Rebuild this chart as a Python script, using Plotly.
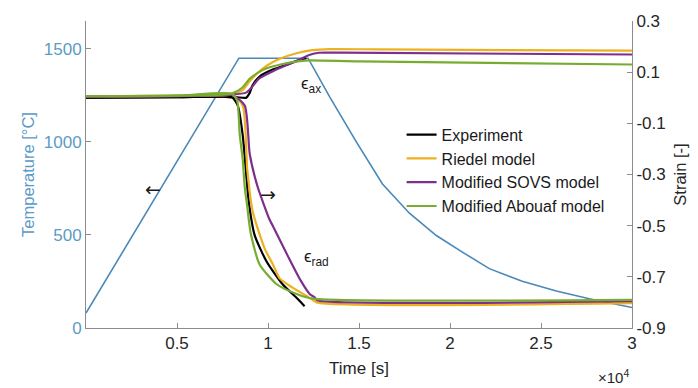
import plotly.graph_objects as go

# ---- temperature programme (left axis) ----
temp_time = [0, 8400, 12200, 13380, 14870, 16290, 17770, 19250, 20680, 22160, 23970, 25840, 27650, 30000]
temp_vals = [80, 1450, 1450, 1244, 998, 774, 617, 497, 408, 319, 251, 199, 157, 110]

# ---- axial strain (right axis) ----
exp_ax_t = [0, 5000, 7600, 8300, 8800, 9000, 9160, 9540, 10260, 11030, 11740, 12100]
exp_ax = [0.0, 0.002, 0.004, 0.002, 0.0, 0.02, 0.05, 0.083, 0.11, 0.129, 0.148, 0.155]

riedel_ax_t = [0, 5000, 8000, 8600, 9000, 9400, 9930, 10640, 11570, 12450, 13400, 16000, 30000]
riedel_ax = [0.005, 0.007, 0.012, 0.03, 0.065, 0.095, 0.125, 0.152, 0.174, 0.186, 0.19, 0.189, 0.184]

sovs_ax_t = [0, 5000, 8000, 8800, 9100, 9500, 10300, 11000, 11700, 12300, 12800, 14000, 30000]
sovs_ax = [0.004, 0.006, 0.012, 0.02, 0.04, 0.075, 0.105, 0.127, 0.148, 0.168, 0.176, 0.176, 0.169]

abouaf_ax_t = [0, 5000, 8000, 8600, 9000, 9500, 9930, 10800, 11740, 12300, 15000, 30000]
abouaf_ax = [0.006, 0.008, 0.016, 0.04, 0.075, 0.1, 0.115, 0.132, 0.143, 0.146, 0.142, 0.13]

# ---- radial strain (right axis) ----
exp_rad_t = [0, 5000, 7600, 8060, 8340, 8610, 8950, 9270, 9930, 10800, 11570, 12010]
exp_rad = [0.0, 0.002, 0.004, 0.0, -0.031, -0.146, -0.41, -0.538, -0.641, -0.729, -0.782, -0.815]

riedel_rad_t = [0, 5000, 8000, 8610, 8860, 9160, 9820, 10260, 10640, 11300, 12290, 12670, 30000]
riedel_rad = [0.005, 0.007, 0.012, -0.03, -0.28, -0.445, -0.59, -0.65, -0.706, -0.74, -0.782, -0.8, -0.803]

sovs_rad_t = [0, 5000, 8000, 8720, 9000, 9430, 10090, 10260, 11100, 11800, 12290, 12560, 12700, 30000]
sovs_rad = [0.004, 0.006, 0.012, -0.03, -0.222, -0.348, -0.477, -0.5, -0.62, -0.715, -0.767, -0.78, -0.792, -0.795]

abouaf_rad_t = [0, 5000, 8000, 8300, 8450, 8610, 8720, 8850, 9050, 9540, 10480, 11570, 12450, 30000]
abouaf_rad = [0.006, 0.008, 0.016, -0.01, -0.146, -0.24, -0.348, -0.42, -0.53, -0.652, -0.729, -0.767, -0.785, -0.79]

# ---- axis ticks ----
x_tickvals = [5000, 10000, 15000, 20000, 25000, 30000]
x_ticktext = ["0.5", "1", "1.5", "2", "2.5", "3"]
temp_tickvals = [0, 500, 1000, 1500]
strain_tickvals = [-0.9, -0.7, -0.5, -0.3, -0.1, 0.1, 0.3]
strain_ticktext = ["-0.9", "-0.7", "-0.5", "-0.3", "-0.1", "0.1", "0.3"]

FONT = "Liberation Sans, Arial, sans-serif"
TEMP_BLUE = "#4a88b8"
LABEL_BLUE = "#5b9bc6"
AXIS_GRAY = "#8c8c8c"
TEXT = "#262626"

series = [
    ("Experiment", "#000000", exp_ax_t, exp_ax, exp_rad_t, exp_rad),
    ("Riedel model", "#EDB120", riedel_ax_t, riedel_ax, riedel_rad_t, riedel_rad),
    ("Modified SOVS model", "#7E2F8E", sovs_ax_t, sovs_ax, sovs_rad_t, sovs_rad),
    ("Modified Abouaf model", "#77AC30", abouaf_ax_t, abouaf_ax, abouaf_rad_t, abouaf_rad),
]

fig = go.Figure()

fig.add_trace(go.Scatter(
    x=temp_time, y=temp_vals, mode="lines", yaxis="y",
    line=dict(color=TEMP_BLUE, width=1.6), showlegend=False, hoverinfo="skip",
))

for name, color, ax_t, ax_v, rad_t, rad_v in series:
    fig.add_trace(go.Scatter(
        x=ax_t, y=ax_v, mode="lines", yaxis="y2", name=name, legendgroup=name,
        line=dict(color=color, width=2.2, shape="spline", smoothing=0.6),
    ))
    fig.add_trace(go.Scatter(
        x=rad_t, y=rad_v, mode="lines", yaxis="y2", name=name, legendgroup=name,
        showlegend=False,
        line=dict(color=color, width=2.2, shape="spline", smoothing=0.6),
    ))

annotations = [
    dict(x=12350, y=0.05, xref="x", yref="y2", text="ϵ<sub>ax</sub>", showarrow=False,
         font=dict(size=17, color="#1a1a1a", family=FONT)),
    dict(x=12650, y=-0.625, xref="x", yref="y2", text="ϵ<sub>rad</sub>", showarrow=False,
         font=dict(size=17, color="#1a1a1a", family=FONT)),
    dict(x=3700, y=-0.355, xref="x", yref="y2", text="←", showarrow=False,
         font=dict(size=19, color="#1a1a1a", family="DejaVu Sans")),
    dict(x=10000, y=-0.375, xref="x", yref="y2", text="→", showarrow=False,
         font=dict(size=19, color="#1a1a1a", family="DejaVu Sans")),
    dict(x=0.967, y=-0.159, xref="paper", yref="paper", xanchor="center", yanchor="middle",
         text="×10<sup>4</sup>", showarrow=False,
         font=dict(size=15, color=TEXT, family=FONT)),
]

fig.update_layout(
    width=698, height=388,
    margin=dict(l=86, r=65, t=13, b=60),
    paper_bgcolor="white", plot_bgcolor="white",
    font=dict(family=FONT, size=17, color=TEXT),
    xaxis=dict(
        range=[0, 30000], tickvals=x_tickvals, ticktext=x_ticktext,
        ticks="inside", ticklen=5, tickcolor=AXIS_GRAY,
        showline=True, linecolor=AXIS_GRAY, linewidth=1,
        showgrid=False, zeroline=False,
        tickfont=dict(size=17, color=TEXT),
        title=dict(text="Time [s]", font=dict(size=17, color=TEXT), standoff=9),
    ),
    yaxis=dict(
        range=[0, 1650], tickvals=temp_tickvals,
        ticks="inside", ticklen=5, tickcolor=AXIS_GRAY,
        showline=True, linecolor=AXIS_GRAY, linewidth=1,
        showgrid=False, zeroline=False,
        tickfont=dict(size=17, color=LABEL_BLUE),
        title=dict(text="Temperature [°C]", font=dict(size=16.5, color=LABEL_BLUE), standoff=4),
    ),
    yaxis2=dict(
        range=[-0.9, 0.3], tickvals=strain_tickvals, ticktext=strain_ticktext,
        overlaying="y", side="right",
        ticks="inside", ticklen=5, tickcolor=AXIS_GRAY,
        showline=True, linecolor=AXIS_GRAY, linewidth=1,
        showgrid=False, zeroline=False,
        tickfont=dict(size=17, color=TEXT),
        title=dict(text="Strain [-]", font=dict(size=16.5, color=TEXT), standoff=9),
    ),
    legend=dict(
        x=0.578, y=0.685, xanchor="left", yanchor="top",
        bgcolor="rgba(0,0,0,0)", borderwidth=0,
        font=dict(size=16, color="#1a1a1a"), tracegroupgap=0,
    ),
    annotations=annotations,
)

fig.write_html("out.html")
